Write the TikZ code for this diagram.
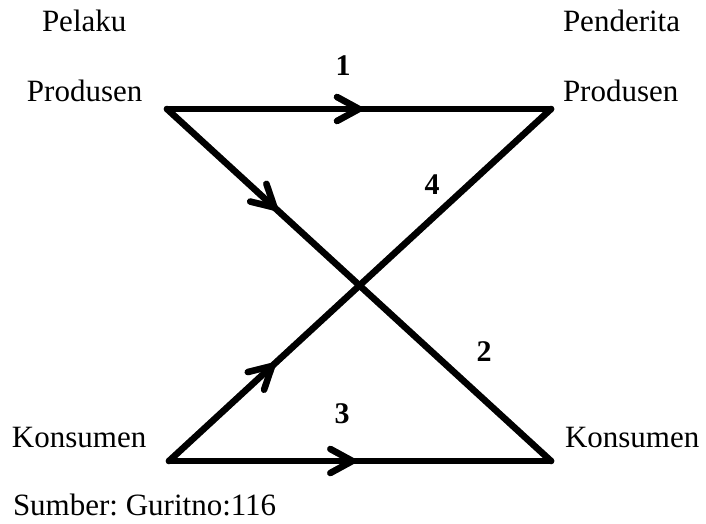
\documentclass[tikz,border=0pt]{standalone}
\usepackage{fontspec}
\setmainfont{Liberation Serif}
\frenchspacing
\usetikzlibrary{decorations.markings}
\tikzset{
  conn/.style={line width=6.5pt, line cap=round, line join=round},
  arrowat/.style={postaction={decorate, decoration={markings,
    mark=at position #1 with {\draw[line width=6.5pt, line cap=round, line join=round]
      (-22pt,12pt) -- (0pt,0pt) -- (-22pt,-12pt);}}}},
  lbl/.style={inner sep=0pt, outer sep=0pt, anchor=base west, font=\fontsize{31}{36}\selectfont},
  num/.style={inner sep=0pt, outer sep=0pt, anchor=base, font=\fontsize{30}{36}\selectfont\bfseries},
}
\begin{document}
\begin{tikzpicture}[x=1pt,y=-1pt]
\useasboundingbox (0,0) rectangle (706,524);
\coordinate (PA) at (167,109);
\coordinate (PB) at (551,109);
\coordinate (KA) at (169,461);
\coordinate (KB) at (551,461);
% shadows
\begin{scope}[shift={(2.5,3)}, color=black!35]
  \draw[conn, arrowat=0.5] (PA) -- (PB);
  \draw[conn, arrowat=0.28] (PA) -- (KB);
  \draw[conn, arrowat=0.48] (KA) -- (KB);
  \draw[conn, arrowat=0.27] (KA) -- (PB);
\end{scope}
% connectors
\draw[conn, arrowat=0.5] (PA) -- (PB);
\draw[conn, arrowat=0.28] (PA) -- (KB);
\draw[conn, arrowat=0.48] (KA) -- (KB);
\draw[conn, arrowat=0.27] (KA) -- (PB);
% labels
\node[lbl] (pelaku) at (42,32) {Pelaku};
\node[lbl] (penderita) at (563,32) {Penderita};
\node[lbl] (prodL) at (27,102) {Produsen};
\node[lbl] (prodR) at (563,102) {Produsen};
\node[lbl] (konL) at (12,447) {Konsumen};
\node[lbl] (konR) at (565,447) {Konsumen};
\node[lbl] (sumber) at (13,515) {Sumber: Guritno:116};
\node[num] (n1) at (343,76) {1};
\node[num] (n4) at (432,194) {4};
\node[num] (n2) at (484,361) {2};
\node[num] (n3) at (342,423) {3};
\end{tikzpicture}
\end{document}
